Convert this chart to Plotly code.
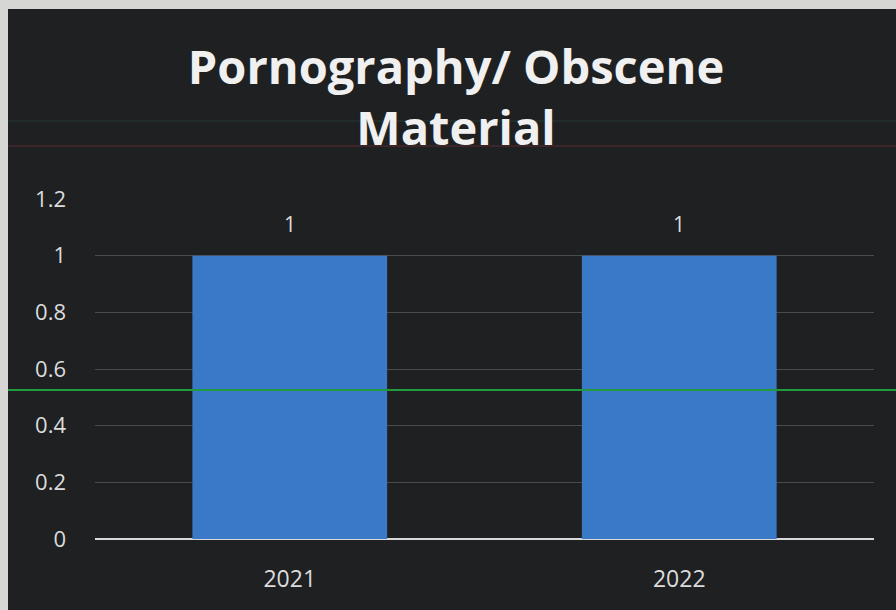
import plotly.graph_objects as go

# Incidents by year
years = ["2021", "2022"]
counts = [1, 1]
y_ticks = [0, 0.2, 0.4, 0.6, 0.8, 1, 1.2]
y_tick_labels = ["0", "0.2", "0.4", "0.6", "0.8", "1", "1.2"]

W, H = 896, 610
L, R, T, B = 95, 22, 199, 71
pw, ph = W - L - R, H - T - B


def px_x(x):
    return (x - L) / pw


def px_y(y):
    return 1 - (y - T) / ph


bg = "#1f2022"
text_col = "#dcdcdc"

fig = go.Figure()
fig.add_trace(go.Bar(
    x=years, y=counts,
    width=0.5,
    marker=dict(color="#3979c7", line=dict(width=0)),
    hoverinfo="skip",
))

# value labels above each bar (category index as x position)
for i, v in enumerate(counts):
    fig.add_annotation(x=i, y=v, text=str(v), showarrow=False, yshift=32,
                       font=dict(size=21, color=text_col, family="Open Sans"))

shapes = [
    # light frame around the screen (top and left edges)
    dict(type="rect", xref="paper", yref="paper", x0=px_x(0), x1=px_x(W),
         y0=px_y(9), y1=px_y(0), fillcolor="#d6d6d4", line=dict(width=0), layer="above"),
    dict(type="rect", xref="paper", yref="paper", x0=px_x(0), x1=px_x(8),
         y0=px_y(H), y1=px_y(0), fillcolor="#d6d6d4", line=dict(width=0), layer="above"),
    # scan lines across the display
    dict(type="line", xref="paper", yref="paper", x0=px_x(8), x1=px_x(W),
         y0=px_y(390), y1=px_y(390), line=dict(color="#1f9a3c", width=2), layer="above"),
    dict(type="line", xref="paper", yref="paper", x0=px_x(8), x1=px_x(W),
         y0=px_y(146), y1=px_y(146), line=dict(color="#5a2a30", width=1), layer="above"),
    dict(type="line", xref="paper", yref="paper", x0=px_x(8), x1=px_x(W),
         y0=px_y(121), y1=px_y(121), line=dict(color="#263a30", width=1), layer="below"),
]

fig.update_layout(
    width=W, height=H,
    margin=dict(l=L, r=R, t=T, b=B),
    paper_bgcolor=bg, plot_bgcolor=bg,
    showlegend=False,
    shapes=shapes,
    title=dict(
        text="Pornography/ Obscene<br>Material",
        x=456 / W, xanchor="center", xref="container",
        y=1 - 84 / H, yanchor="middle", yref="container",
        font=dict(size=47, color="#f0f0f0", family="Open Sans", weight="bold"),
    ),
    xaxis=dict(
        type="category",
        categoryorder="array", categoryarray=years,
        range=[-0.5, len(years) - 0.5],
        showgrid=False, showline=False, zeroline=False,
        tickfont=dict(size=23, color=text_col, family="Open Sans"),
        ticklabelstandoff=24,
    ),
    yaxis=dict(
        range=[0, 1.2],
        tickvals=y_ticks, ticktext=y_tick_labels,
        showgrid=True, gridcolor="#4a4b4d", gridwidth=1,
        zeroline=True, zerolinecolor="#d8d8d8", zerolinewidth=2,
        showline=False,
        tickfont=dict(size=22, color=text_col, family="Open Sans"),
        ticklabelstandoff=28,
    ),
)

fig.write_html("out.html")
